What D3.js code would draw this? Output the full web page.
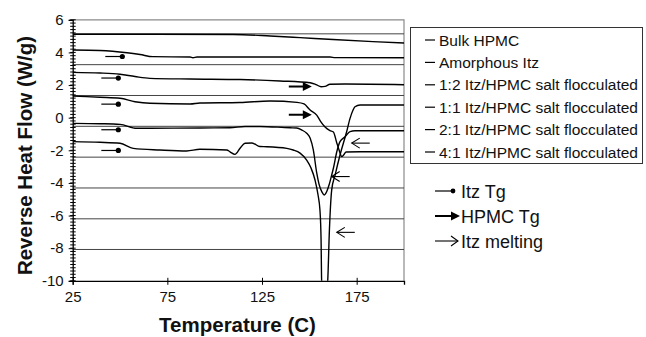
<!DOCTYPE html>
<html>
<head>
<meta charset="utf-8">
<script src="https://cdn.jsdelivr.net/npm/d3@7"></script>
<style>
  body { margin: 0; background: #fff; }
  text { font-family: "Liberation Sans", Arial, sans-serif; fill: #111; }
</style>
</head>
<body>
<svg id="chart" width="646" height="337"></svg>
<script>
// axis ticks
const xTicks = [25, 75, 125, 175];
const yTicks = [6, 4, 2, 0, -2, -4, -6, -8, -10];
// horizontal reference lines (not aligned to the ticks in the original)
const gridValues = [5.14, 3.25, 1.36, -0.53, -2.42, -4.31, -6.2, -8.08];

const seriesNames = ['Bulk HPMC', 'Amorphous Itz', '1:2 Itz/HPMC salt flocculated',
  '1:1 Itz/HPMC salt flocculated', '2:1 Itz/HPMC salt flocculated', '4:1 Itz/HPMC salt flocculated'];

// [temperature, reverse heat flow]
const bulkHPMC = [[25.2, 5.11], [65.8, 5.11], [109.7, 5.1], [129.3, 5.01], [145.1, 4.91],
  [162.5, 4.79], [183.6, 4.66], [200, 4.58]];
const amorphousItz = [[25.2, 4.15], [39.4, 4.12], [53.7, 3.98], [60.6, 3.87], [67.4, 3.74],
  [87, 3.72], [88.5, 3.67], [90.7, 3.72], [124, 3.72], [161, 3.72], [163.6, 3.68], [200, 3.67]];
const ratio12 = [[25.2, 2.78], [39.4, 2.74], [50, 2.66], [57.9, 2.52], [65.8, 2.41], [87, 2.37],
  [113.4, 2.34], [134.5, 2.25], [150.4, 2.14], [153.5, 2.03], [156.2, 1.9], [158.3, 1.92],
  [160.9, 2.05], [168.9, 2.06], [200, 2.02]];
const ratio11 = [[25.2, 1.33], [39.4, 1.25], [50, 1.19], [57.9, 0.98], [65.8, 0.88], [87, 0.84],
  [92.2, 0.9], [113.4, 0.93], [129.2, 1.02], [143.5, 0.94], [147.2, 0.84], [150.4, 0.47],
  [153.9, 0.16], [156.2, -0.27], [158.3, -0.57], [160.9, -0.79], [162.7, -0.88], [164.5, -1.55],
  [165.7, -1.98], [167.1, -2.38], [168.1, -2.29], [169.4, -2.1], [176.8, -2.09], [200, -2.09]];
const ratio21 = [[25.2, -0.35], [39.4, -0.37], [50, -0.41], [58.8, -0.65], [65.8, -0.65],
  [92.2, -0.63], [108, -0.62], [116, -0.54], [124, -0.54], [139.8, -0.62], [143.3, -0.63],
  [146.1, -0.76], [148.6, -0.96], [150.4, -1.25], [152.1, -1.98], [153.9, -3.39], [155.1, -4.07],
  [156.7, -4.56], [157.9, -4.74], [159.3, -4.5], [160.4, -4.13], [161.8, -3.52], [162.7, -3.1],
  [164.5, -2.09], [166.2, -1.47], [168.9, -1.17], [171.5, -0.85], [174.1, -0.8], [200, -0.8]];
const ratio41 = [[25.2, -1.47], [39.4, -1.51], [50, -1.57], [57, -1.88], [71.1, -1.98],
  [85.2, -2.04], [92.2, -1.94], [106.4, -1.98], [108.1, -2.09], [110.7, -2.25], [113.4, -1.88],
  [116, -1.57], [119.7, -1.55], [123.9, -1.77], [127.5, -1.78], [138.1, -1.88], [141.5, -1.98],
  [145.1, -2.17], [148.6, -2.6], [150.9, -3.09], [153, -3.82], [154.6, -4.74], [155.6, -5.66],
  [156.2, -7.5], [156.5, -10], [158.1, -11.5], [159.7, -10], [160.6, -6.89], [161.8, -4.44],
  [163.6, -3.52], [166.2, -2.29], [169.7, -0.86], [171.5, -0.04], [173.1, 0.47], [174.1, 0.67],
  [176.8, 0.78], [200, 0.78]];

// annotation arrow tips
const itzTg = [[51.2, 3.75], [49.1, 2.43], [49.1, 0.83], [49.1, -0.74], [49.1, -2.01]];
const hpmcTg = [[151.3, 1.91], [151.3, 0.18]];
const itzMelting = [[172.4, -1.56], [161.8, -3.61], [164.5, -7.03]];

const markerLabels = ['Itz Tg', 'HPMC Tg', 'Itz melting'];

const svg = d3.select('#chart');
const plotL = 72.7, plotR = 404, plotT = 19.8, plotB = 280.8;

const x = d3.scaleLinear().domain([25, 200]).range([plotL, plotR]);
const y = d3.scaleLinear().domain([-10, 6]).range([plotB, plotT]);

svg.append('defs').append('clipPath').attr('id', 'plotclip')
  .append('rect').attr('x', plotL).attr('y', plotT).attr('width', plotR - plotL).attr('height', plotB - plotT);

// frame top / right
svg.append('path')
  .attr('d', `M${plotL},${plotT}H${plotR}V${plotB}`)
  .attr('fill', 'none').attr('stroke', '#8a8a8a').attr('stroke-width', 1.2);

// reference lines
svg.append('g').selectAll('line')
  .data(gridValues)
  .enter().append('line')
  .attr('x1', plotL).attr('x2', plotR)
  .attr('y1', d => y(d)).attr('y2', d => y(d))
  .attr('stroke', '#444').attr('stroke-width', 1);

const yAxis = d3.axisLeft(y).tickValues(yTicks).tickSize(4).tickPadding(5).tickFormat(d => String(d));
const gy = svg.append('g').attr('transform', `translate(${plotL},0)`).call(yAxis);
gy.select('.domain').attr('stroke', '#000').attr('stroke-width', 1.3);
gy.selectAll('text').style('font-size', '15px').attr('fill', '#111');

// y minor ticks
const minor = d3.range(-10, 6.001, 0.2);
svg.append('g').selectAll('line')
  .data(minor)
  .enter().append('line')
  .attr('x1', plotL - 2.5).attr('x2', plotL + 3)
  .attr('y1', d => y(d)).attr('y2', d => y(d))
  .attr('stroke', '#000').attr('stroke-width', 1);

const xAxis = d3.axisBottom(x).tickValues(xTicks).tickSize(4).tickPadding(7);
const gx = svg.append('g').attr('transform', `translate(0,${plotB})`).call(xAxis);
gx.select('.domain').attr('stroke', '#000').attr('stroke-width', 1.3);
gx.selectAll('.tick line').attr('y1', -3);
gx.selectAll('text').style('font-size', '15px').attr('fill', '#111');

// curves
const line = d3.line().x(d => x(d[0])).y(d => y(d[1])).curve(d3.curveMonotoneX);
const series = [bulkHPMC, amorphousItz, ratio12, ratio11, ratio21, ratio41];
svg.append('g').attr('clip-path', 'url(#plotclip)')
  .selectAll('path')
  .data(series)
  .enter().append('path')
  .attr('d', line)
  .attr('fill', 'none')
  .attr('stroke', '#000')
  .attr('stroke-width', 1.4);

// annotations
const ann = svg.append('g').attr('stroke', '#000').attr('fill', '#000');
itzTg.forEach(d => {
  const px = x(d[0]), py = y(d[1]);
  ann.append('line').attr('x1', px - 17).attr('x2', px).attr('y1', py).attr('y2', py).attr('stroke-width', 1.2);
  ann.append('circle').attr('cx', px).attr('cy', py).attr('r', 2.6).attr('stroke', 'none');
});
hpmcTg.forEach(d => {
  const px = x(d[0]), py = y(d[1]);
  ann.append('line').attr('x1', px - 23).attr('x2', px - 6).attr('y1', py).attr('y2', py).attr('stroke-width', 2);
  ann.append('path').attr('d', `M${px},${py}L${px - 9},${py - 4.5}L${px - 9},${py + 4.5}Z`).attr('stroke', 'none');
});
itzMelting.forEach(d => {
  const px = x(d[0]), py = y(d[1]);
  ann.append('line').attr('x1', px).attr('x2', px + 18).attr('y1', py).attr('y2', py).attr('stroke-width', 1.1);
  ann.append('path').attr('d', `M${px + 8},${py - 5}L${px},${py}L${px + 8},${py + 5}`)
    .attr('fill', 'none').attr('stroke-width', 1.1);
});

// axis titles
svg.append('text')
  .attr('x', 237.5).attr('y', 332)
  .attr('text-anchor', 'middle')
  .style('font-size', '20.5px').style('font-weight', 'bold')
  .text('Temperature (C)');
svg.append('text')
  .attr('transform', 'translate(32,155.5) rotate(-90)')
  .attr('text-anchor', 'middle')
  .style('font-size', '20.5px').style('font-weight', 'bold')
  .text('Reverse Heat Flow (W/g)');

// legend
svg.append('rect')
  .attr('x', 410.5).attr('y', 27.5).attr('width', 232).attr('height', 136)
  .attr('fill', '#fff').attr('stroke', '#333').attr('stroke-width', 1);
const leg = svg.append('g').selectAll('g')
  .data(seriesNames)
  .enter().append('g')
  .attr('transform', (d, i) => `translate(0,${40 + i * 22.4})`);
leg.append('line').attr('x1', 425).attr('x2', 435).attr('y1', 0).attr('y2', 0)
  .attr('stroke', '#000').attr('stroke-width', 1.2);
leg.append('text').attr('x', 439).attr('y', 5.5)
  .style('font-size', '15.5px').text(d => d);

// marker legend
const mleg = svg.append('g');
markerLabels.forEach((t, i) => {
  const py = 191 + i * 25;
  if (i === 0) {
    mleg.append('line').attr('x1', 435).attr('x2', 453).attr('y1', py).attr('y2', py).attr('stroke', '#000').attr('stroke-width', 1.2);
    mleg.append('circle').attr('cx', 453).attr('cy', py).attr('r', 2.4).attr('fill', '#000');
  } else if (i === 1) {
    mleg.append('line').attr('x1', 435).attr('x2', 453).attr('y1', py).attr('y2', py).attr('stroke', '#000').attr('stroke-width', 2);
    mleg.append('path').attr('d', `M460,${py}L451,${py - 4.5}L451,${py + 4.5}Z`).attr('fill', '#000');
  } else {
    mleg.append('line').attr('x1', 435).attr('x2', 458).attr('y1', py).attr('y2', py).attr('stroke', '#000').attr('stroke-width', 1.1);
    mleg.append('path').attr('d', `M451,${py - 5}L458,${py}L451,${py + 5}`).attr('fill', 'none').attr('stroke', '#000').attr('stroke-width', 1.1);
  }
  mleg.append('text').attr('x', 461).attr('y', py + 6.5).style('font-size', '18px').text(t);
});
</script>
</body>
</html>
